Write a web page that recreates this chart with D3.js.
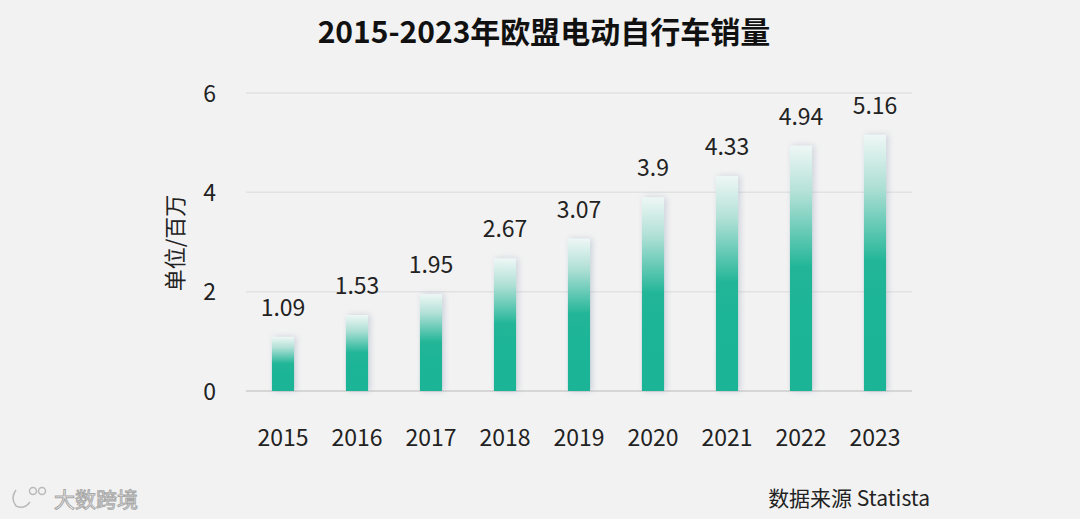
<!DOCTYPE html>
<html><head><meta charset="utf-8">
<script src="https://cdn.jsdelivr.net/npm/d3@7"></script>
<style>
html,body{margin:0;padding:0;background:#f2f2f2;}
svg{display:block;font-family:"Noto Sans CJK SC","Noto Sans",sans-serif;}
</style></head><body>
<svg id="c" width="1080" height="519"></svg>
<script>
const years = ["2015","2016","2017","2018","2019","2020","2021","2022","2023"];
const sales = [1.09,1.53,1.95,2.67,3.07,3.9,4.33,4.94,5.16];
const yTicks = [0,2,4,6];
const title = "2015-2023年欧盟电动自行车销量";
const yTitle = "单位/百万";
const source = "数据来源 Statista";

const svg = d3.select("#c");
svg.append("rect").attr("width",1080).attr("height",519).attr("fill","#f2f2f2");

const defs = svg.append("defs");
const g1 = defs.append("linearGradient").attr("id","bg").attr("x1",0).attr("y1",0).attr("x2",0).attr("y2",1);
g1.append("stop").attr("offset","0%").attr("stop-color","#eef7f5");
g1.append("stop").attr("offset","20%").attr("stop-color","#b0e0d6");
g1.append("stop").attr("offset","50%").attr("stop-color","#20b597");
g1.append("stop").attr("offset","100%").attr("stop-color","#1db496");
const f = defs.append("filter").attr("id","sh").attr("x","-60%").attr("y","-20%").attr("width","220%").attr("height","140%");
f.append("feDropShadow").attr("dx",2).attr("dy",0).attr("stdDeviation",3).attr("flood-color","#9aa6c0").attr("flood-opacity",0.45);

const x = d3.scaleBand().domain(years).range([246,912]).paddingInner(0.7).paddingOuter(0.35);
const y = d3.scaleLinear().domain([0,6]).range([391,93]);

// grid
svg.append("g").selectAll("line").data(yTicks).join("line")
  .attr("x1",246).attr("x2",912).attr("y1",d=>y(d)).attr("y2",d=>y(d))
  .attr("stroke",d=>d===0?"#d6d6d6":"#e2e2e2").attr("stroke-width",d=>d===0?2:1.5);

// y axis
const ya = svg.append("g").attr("transform","translate(216,0)")
  .call(d3.axisLeft(y).tickValues(yTicks).tickSize(0).tickPadding(0).tickFormat(d3.format("d")));
ya.select(".domain").remove();
ya.selectAll("text").attr("font-size",23).attr("fill","#222").attr("font-family","Noto Sans CJK SC").attr("dy","0.35em");

// x axis
const xa = svg.append("g").attr("transform","translate(0,391)")
  .call(d3.axisBottom(x).tickSize(0).tickPadding(36));
xa.select(".domain").remove();
xa.selectAll("text").attr("font-size",23).attr("fill","#222").attr("font-family","Noto Sans CJK SC").attr("dy","0.35em").attr("y",47);

// bars
svg.append("g").selectAll("rect").data(sales).join("rect")
  .attr("x",(d,i)=>x(years[i]))
  .attr("width",x.bandwidth())
  .attr("y",d=>y(d))
  .attr("height",d=>y(0)-y(d))
  .attr("fill","url(#bg)")
  .attr("filter","url(#sh)");

// value labels
svg.append("g").selectAll("text").data(sales).join("text")
  .attr("x",(d,i)=>x(years[i])+x.bandwidth()/2)
  .attr("y",d=>y(d)-21)
  .attr("text-anchor","middle")
  .attr("font-size",23).attr("fill","#222")
  .text(d=>d);

// y title
svg.append("text").attr("transform","translate(183,243) rotate(-90)")
  .attr("text-anchor","middle").attr("font-size",22).attr("fill","#222").text(yTitle);

// title
svg.append("text").attr("x",544).attr("y",43).attr("text-anchor","middle")
  .attr("font-size",30).attr("font-weight","bold").attr("fill","#111").text(title);

// source
svg.append("text").attr("x",930).attr("y",506).attr("text-anchor","end")
  .attr("font-size",21).attr("fill","#222").text(source);

// watermark
const wm = svg.append("g").attr("opacity",0.85).attr("fill","none").attr("stroke","#b0b0b0").attr("stroke-width",1.5);
wm.append("path").attr("d","M16,490 Q10,498 16,506 Q24,510 30,502");
wm.append("circle").attr("cx",33).attr("cy",491).attr("r",3.5);
wm.append("circle").attr("cx",42).attr("cy",491).attr("r",3.5);
svg.append("text").attr("x",54).attr("y",507).attr("font-size",21).attr("fill","#f6f6f6")
  .attr("stroke","#a8a8a8").attr("stroke-width",1).text("大数跨境");
</script>
</body></html>
